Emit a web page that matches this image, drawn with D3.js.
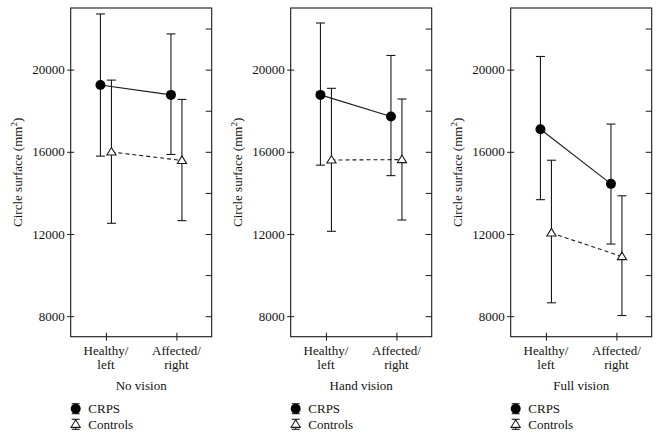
<!DOCTYPE html>
<html>
<head>
<meta charset="utf-8">
<script src="https://cdn.jsdelivr.net/npm/d3@7"></script>
<style>
  body { margin: 0; background: #fff; }
  svg { display: block; }
  svg text { font-family: "Liberation Serif", "DejaVu Serif", serif !important; fill: #111; }
</style>
</head>
<body>
<svg id="chart" width="660" height="437"></svg>
<script>
// ---- data ----
const panels = ["No vision", "Hand vision", "Full vision"];
const categories = ["Healthy/left", "Affected/right"];
const categoryLines = [["Healthy/", "left"], ["Affected/", "right"]];
const yTicks = [8000, 12000, 16000, 20000];
const yMinorTicks = [8000, 10000, 12000, 14000, 16000, 18000, 20000, 22000];

// per panel: [left, right]
const crpsMean  = [[19250, 18770], [18770, 17720], [17100, 14440]];
const crpsUpper = [[22710, 21740], [22270, 20690], [20640, 17350]];
const crpsLower = [[15790, 15870], [15350, 14840], [13670, 11510]];
const ctrlMean  = [[15990, 15580], [15600, 15620], [12050, 10900]];
const ctrlUpper = [[19490, 18550], [19090, 18570], [15590, 13860]];
const ctrlLower = [[12520, 12650], [12130, 12680], [8650, 8030]];

const series = [
  { name: "CRPS", mean: crpsMean, upper: crpsUpper, lower: crpsLower, shape: "circle", dash: null, dx: -5.5 },
  { name: "Controls", mean: ctrlMean, upper: ctrlUpper, lower: ctrlLower, shape: "triangle", dash: "4,3", dx: 5.5 }
];

// ---- layout ----
const svg = d3.select("#chart");
const panelW = 220;
const plot = { left: 70.7, right: 211.7, top: 8, bottom: 336.7 };
const stroke = "#1a1a1a";
const fs = 13;
const FONT = "Liberation Serif, DejaVu Serif, serif";

const y = d3.scaleLinear().domain([7000, 23000]).range([plot.bottom, plot.top]);
const x = d3.scalePoint().domain(categories).range([plot.left, plot.right]).padding(0.5);

function drawMarker(g, shape, cx, cy) {
  if (shape === "circle") {
    g.append("circle").attr("cx", cx).attr("cy", cy).attr("r", 5)
      .attr("fill", "#000").attr("stroke", "none");
  } else {
    const w = 4.6, h = 7.6;
    g.append("path")
      .attr("d", `M${cx},${cy - h * 0.6} L${cx + w},${cy + h * 0.4} L${cx - w},${cy + h * 0.4} Z`)
      .attr("fill", "#fff").attr("stroke", stroke).attr("stroke-width", 1.1);
  }
}

function txt(g) {
  return g.append("text").attr("font-family", FONT).attr("font-size", fs).attr("fill", "#111");
}

panels.forEach((title, pi) => {
  const g = svg.append("g").attr("transform", `translate(${pi * panelW},0)`);

  // frame
  g.append("rect")
    .attr("x", plot.left).attr("y", plot.top)
    .attr("width", plot.right - plot.left).attr("height", plot.bottom - plot.top)
    .attr("fill", "none").attr("stroke", stroke).attr("stroke-width", 1.1);

  // left axis (major ticks crossing)
  const yAxis = d3.axisLeft(y).tickValues(yTicks).tickFormat(d3.format("d")).tickSize(4).tickPadding(5);
  const ya = g.append("g").attr("transform", `translate(${plot.left},0)`).call(yAxis)
    .attr("font-family", FONT).attr("font-size", fs);
  ya.select(".domain").remove();
  ya.selectAll(".tick line").attr("x2", 3.5).attr("x1", -3.5).attr("stroke", stroke);
  ya.selectAll(".tick text").attr("x", -6).attr("fill", "#111");

  // right axis (minor ticks inward)
  const yR = d3.axisLeft(y).tickValues(yMinorTicks).tickFormat("").tickSize(6);
  const yr = g.append("g").attr("transform", `translate(${plot.right},0)`).call(yR);
  yr.select(".domain").remove();
  yr.selectAll(".tick line").attr("stroke", stroke);

  // bottom axis
  const xAxis = d3.axisBottom(x).tickSize(4).tickFormat("");
  const xa = g.append("g").attr("transform", `translate(0,${plot.bottom})`).call(xAxis);
  xa.select(".domain").remove();
  xa.selectAll(".tick line").attr("y1", -4).attr("y2", 4).attr("stroke", stroke);

  // category labels
  categories.forEach((c, ci) => {
    categoryLines[ci].forEach((line, li) => {
      txt(g).attr("x", x(c)).attr("y", 355 + li * 14)
        .attr("text-anchor", "middle").text(line);
    });
  });

  // panel title
  txt(g).attr("x", (plot.left + plot.right) / 2).attr("y", 389.5)
    .attr("text-anchor", "middle").text(title);

  // y label
  const yl = txt(g).attr("transform", `translate(22,${(plot.top + plot.bottom) / 2}) rotate(-90)`)
    .attr("text-anchor", "middle");
  yl.append("tspan").text("Circle surface (mm");
  yl.append("tspan").attr("dy", -5).attr("font-size", 9).text("2");
  yl.append("tspan").attr("dy", 5).text(")");

  // series
  series.forEach(s => {
    const pts = categories.map((c, ci) => ({
      cx: x(c) + s.dx, m: s.mean[pi][ci], hi: s.upper[pi][ci], lo: s.lower[pi][ci]
    }));
    // error bars
    pts.forEach(p => {
      g.append("line").attr("x1", p.cx).attr("x2", p.cx).attr("y1", y(p.hi)).attr("y2", y(p.lo))
        .attr("stroke", stroke).attr("stroke-width", 1.1);
      [p.hi, p.lo].forEach(v => {
        g.append("line").attr("x1", p.cx - 4.5).attr("x2", p.cx + 4.5).attr("y1", y(v)).attr("y2", y(v))
          .attr("stroke", stroke).attr("stroke-width", 1.1);
      });
    });
    // connecting line
    g.append("path")
      .datum(pts)
      .attr("d", d3.line().x(p => p.cx).y(p => y(p.m)))
      .attr("fill", "none").attr("stroke", stroke).attr("stroke-width", 1.1)
      .attr("stroke-dasharray", s.dash);
    pts.forEach(p => drawMarker(g, s.shape, p.cx, y(p.m)));
  });

  // legend
  series.forEach((s, si) => {
    const ly = 408.7 + si * 15.6;
    const lx = 75.7;
    const lg = g.append("g");
    lg.append("line").attr("x1", lx).attr("x2", lx).attr("y1", ly - 5).attr("y2", ly + 5)
      .attr("stroke", stroke).attr("stroke-width", 1.1);
    [ly - 5, ly + 5].forEach(v => lg.append("line").attr("x1", lx - 4).attr("x2", lx + 4)
      .attr("y1", v).attr("y2", v).attr("stroke", stroke).attr("stroke-width", 1.1));
    drawMarker(lg, s.shape, lx, ly);
    txt(lg).attr("x", 88.3).attr("y", ly + 4.3).text(s.name);
  });
});
</script>
</body>
</html>
